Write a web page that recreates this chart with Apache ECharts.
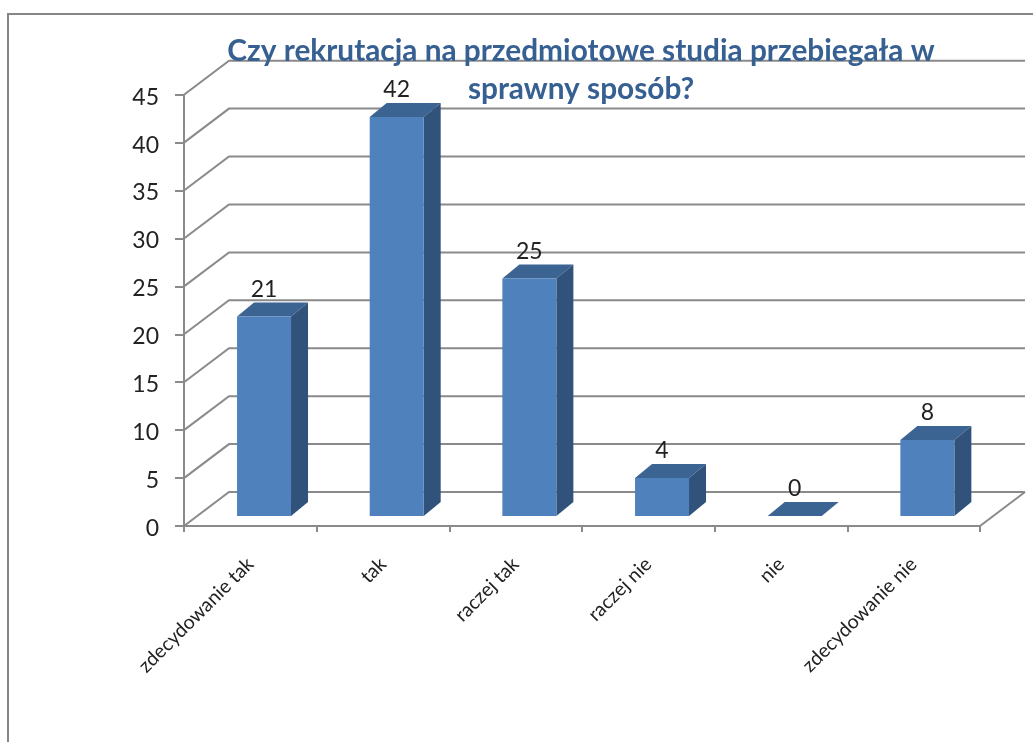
<!DOCTYPE html>
<html>
<head>
<meta charset="utf-8">
<style>html,body{margin:0;padding:0;background:#fff}#c{width:1033px;height:742px}</style>
<script src="https://cdn.jsdelivr.net/npm/echarts@6/dist/echarts.min.js"></script>
</head>
<body>
<div id="c"></div>
<script>
const titleText = 'Czy rekrutacja na przedmiotowe studia przebiegała w\nsprawny sposób?';
const categories = ['zdecydowanie tak', 'tak', 'raczej tak', 'raczej nie', 'nie', 'zdecydowanie nie'];
const values = [21, 42, 25, 4, 0, 8];
const gridValues = [0, 5, 10, 15, 20, 25, 30, 35, 40, 45];

const FONT = 'Lato, "Open Sans", sans-serif';
const LINE = '#8a8a8a';
const WALL_DX = 45, WALL_DY = -34;
const BAR_DX = 17, BAR_DY = -14;

const chart = echarts.init(document.getElementById('c'), null, {renderer: 'canvas'});

function renderWall(params, api) {
  const cs = params.coordSys;
  const y = api.coord([0, api.value(0)])[1];
  const style = {stroke: LINE, lineWidth: 2, fill: 'none'};
  const children = [{
    type: 'polyline', style,
    shape: {points: [[cs.x, y], [cs.x + WALL_DX, y + WALL_DY], [cs.x + cs.width + WALL_DX, y + WALL_DY]]}
  }];
  if (api.value(0) === 0) {
    children.push({
      type: 'line', style,
      shape: {x1: cs.x + cs.width, y1: y, x2: cs.x + cs.width + WALL_DX, y2: y + WALL_DY}
    });
  }
  return {type: 'group', children};
}

function renderBar(params, api) {
  const top = api.coord([api.value(0), api.value(1)]);
  const base = api.coord([api.value(0), 0]);
  const w = api.size([1, 0])[0] * 0.407;
  const l = top[0] - w / 2, r = top[0] + w / 2, t = top[1], b = base[1];
  const children = [
    {type: 'polygon', shape: {points: [[l, t], [r, t], [r + BAR_DX, t + BAR_DY], [l + BAR_DX, t + BAR_DY]]},
     style: {fill: '#3b6492'}}
  ];
  if (b > t) {
    children.push(
      {type: 'polygon', shape: {points: [[r, t], [r + BAR_DX, t + BAR_DY], [r + BAR_DX, b + BAR_DY], [r, b]]},
       style: {fill: '#31527a'}},
      {type: 'rect', shape: {x: l, y: t, width: w, height: b - t}, style: {fill: '#4f81bd'}}
    );
  }
  children.push({
    type: 'text',
    style: {x: top[0], y: t - 27, text: String(api.value(1)), fill: '#222', font: '23px ' + FONT, align: 'center', verticalAlign: 'middle'}
  });
  return {type: 'group', children};
}

chart.setOption({
  animation: false,
  backgroundColor: '#fff',
  title: {
    text: titleText,
    left: 576, top: 27,
    textAlign: 'center',
    textStyle: {color: '#376092', fontFamily: FONT, fontWeight: 'bold', fontSize: 29.8, lineHeight: 38}
  },
  graphic: [{
    type: 'polyline', silent: true, z: 10,
    shape: {points: [[8, 742], [8, 14], [1033, 14]]},
    style: {stroke: '#868686', lineWidth: 2, fill: 'none'}
  }],
  grid: [
    {left: 184, top: 94.7, width: 796, height: 431.3},
    {left: 197.7, top: 88.5, width: 796, height: 427.5}
  ],
  xAxis: [
    {type: 'category', gridIndex: 0, data: categories,
     axisLine: {lineStyle: {color: LINE, width: 2}},
     axisTick: {show: true, length: 6, lineStyle: {color: LINE, width: 2}},
     axisLabel: {rotate: 45, margin: 35, interval: 0, color: '#222', fontFamily: FONT, fontSize: 19.5}},
    {type: 'category', gridIndex: 1, data: categories, show: false}
  ],
  yAxis: [
    {type: 'value', gridIndex: 0, min: 0, max: 45, interval: 5,
     axisLine: {show: true, lineStyle: {color: LINE, width: 2}},
     axisTick: {show: true, length: 9, lineStyle: {color: LINE, width: 2}},
     splitLine: {show: false},
     axisLabel: {margin: 25, formatter: '{n|{value}}',
                 rich: {n: {padding: [5, 0, 0, 0], color: '#222', fontFamily: FONT, fontSize: 23}}}},
    {type: 'value', gridIndex: 1, min: 0, max: 45, show: false, splitLine: {show: false}}
  ],
  series: [
    {type: 'custom', xAxisIndex: 0, yAxisIndex: 0, renderItem: renderWall, silent: true,
     data: gridValues.map(v => [v]), encode: {y: 0}, clip: false, z: 1},
    {type: 'custom', xAxisIndex: 1, yAxisIndex: 1, renderItem: renderBar, silent: true,
     data: values.map((v, i) => [i, v]), encode: {x: 0, y: 1}, clip: false, z: 2}
  ]
});
</script>
</body>
</html>
